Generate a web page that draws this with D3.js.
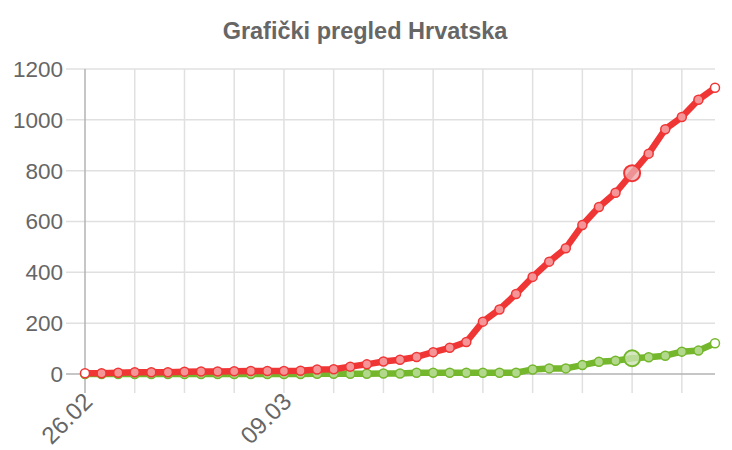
<!DOCTYPE html>
<html>
<head>
<meta charset="utf-8">
<script src="https://cdn.jsdelivr.net/npm/d3@7"></script>
<style>
  html, body { margin: 0; padding: 0; background: #fff; }
  svg { display: block; font-family: "Liberation Sans", Arial, Helvetica, sans-serif; }
</style>
</head>
<body>
<svg id="chart" width="732" height="450"></svg>
<script>
const title = "Grafički pregled Hrvatska";
const dates = ["26.02","27.02","28.02","29.02","01.03","02.03","03.03","04.03","05.03","06.03",
  "07.03","08.03","09.03","10.03","11.03","12.03","13.03","14.03","15.03","16.03",
  "17.03","18.03","19.03","20.03","21.03","22.03","23.03","24.03","25.03","26.03",
  "27.03","28.03","29.03","30.03","31.03","01.04","02.04","03.04","04.04"];
const shownLabels = ["26.02", "09.03"];
const gridDates = ["26.02","29.02","03.03","06.03","09.03","12.03","15.03","18.03","21.03","24.03","27.03","30.03","02.04"];
const confirmed = [3,3,5,7,7,7,9,10,10,11,12,12,12,13,18,19,29,38,49,56,
  67,86,103,126,206,254,315,382,442,495,586,657,713,790,867,963,1011,1079,1126];
const recovered = [0,0,0,0,0,0,0,0,0,0,0,0,0,0,1,1,1,1,2,2,
  5,5,5,5,5,5,5,18,22,22,35,48,52,62,66,72,88,92,121];
const yTicks = [0,200,400,600,800,1000,1200];
const hoverDate = "30.03";

const svg = d3.select("#chart");
const pLeft = 85, pRight = 715, pTop = 69, pBottom = 374;
const x = d3.scalePoint().domain(dates).range([pLeft, pRight]);
const y = d3.scaleLinear().domain([0, 1200]).range([pBottom, pTop]);
const textColor = "#666";

// title
svg.append("text").attr("x", 365).attr("y", 39).attr("text-anchor", "middle")
  .attr("font-size", 23.5).attr("font-weight", "bold").attr("fill", textColor).text(title);

// horizontal grid
const g = svg.append("g");
g.selectAll("line.h").data(yTicks.filter(d => d !== 0)).enter().append("line")
  .attr("x1", 66).attr("x2", pRight).attr("y1", d => y(d)).attr("y2", d => y(d))
  .attr("stroke", "#e0e0e0").attr("stroke-width", 1.5);
// vertical grid
g.selectAll("line.v").data(gridDates.filter(d => d !== dates[0])).enter().append("line")
  .attr("x1", d => x(d)).attr("x2", d => x(d)).attr("y1", pTop).attr("y2", 393)
  .attr("stroke", "#e0e0e0").attr("stroke-width", 1.5);
// axes
g.append("line").attr("x1", 66).attr("x2", pRight).attr("y1", y(0)).attr("y2", y(0))
  .attr("stroke", "#b3b3b3").attr("stroke-width", 1.5);
g.append("line").attr("x1", pLeft).attr("x2", pLeft).attr("y1", pTop).attr("y2", 393)
  .attr("stroke", "#b3b3b3").attr("stroke-width", 1.5);

// y labels
svg.append("g").selectAll("text").data(yTicks).enter().append("text")
  .attr("x", 63).attr("y", d => y(d)).attr("dy", "0.35em").attr("text-anchor", "end")
  .attr("font-size", 22.5).attr("fill", textColor).text(d => d);

// x labels
svg.append("g").selectAll("text").data(shownLabels).enter().append("text")
  .attr("transform", d => `translate(${x(d) + 3},${397}) rotate(-45)`)
  .attr("dy", "0.35em").attr("text-anchor", "end")
  .attr("font-size", 24).attr("fill", textColor).text(d => d);

const line = d3.line().x((d, i) => x(dates[i])).y(d => y(d));

function drawSeries(values, lineColor, fillColor, hoverFill) {
  const s = svg.append("g");
  s.append("path").datum(values).attr("d", line).attr("fill", "none")
    .attr("stroke", lineColor).attr("stroke-width", 6.5).attr("stroke-linejoin", "round");
  s.selectAll("circle").data(values).enter().append("circle")
    .attr("cx", (d, i) => x(dates[i])).attr("cy", d => y(d))
    .attr("r", (d, i) => dates[i] === hoverDate ? 8 : 4.5)
    .attr("fill", (d, i) => dates[i] === hoverDate ? hoverFill : ((i === 0 || i === values.length - 1) ? "#fff" : fillColor))
    .attr("stroke", lineColor).attr("stroke-width", (d, i) => dates[i] === hoverDate ? 2 : 1.5);
}

drawSeries(recovered, "#74b72c", "#b2d88c", "rgba(205,228,180,0.8)");
drawSeries(confirmed, "#f03535", "#f59597", "rgba(238,170,172,0.8)");
</script>
</body>
</html>
